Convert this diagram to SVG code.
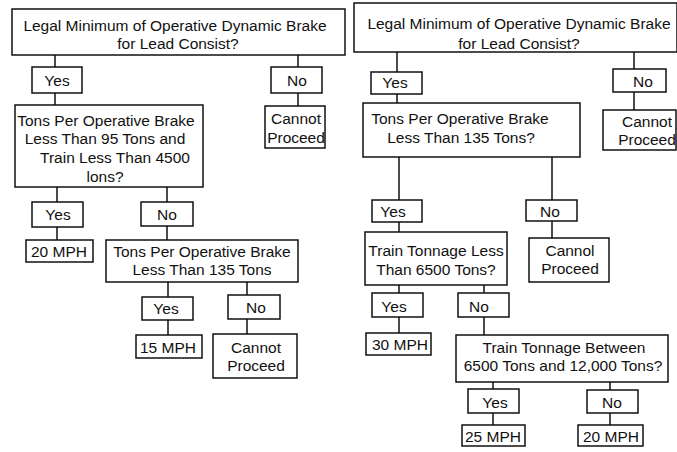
<svg xmlns="http://www.w3.org/2000/svg" width="677" height="452" viewBox="0 0 677 452">
  <style>
    .box { fill: #fff; stroke: #111; stroke-width: 1.5; }
    .wire { stroke: #111; stroke-width: 1.5; fill: none; }
    text { font-family: "Liberation Sans", Arial, Helvetica, sans-serif; font-size: 15.5px; fill: #111; text-anchor: middle; }
  </style>
  <rect width="677" height="452" fill="#fff"/>

  <!-- connectors -->
  <g id="connectors" class="wire">
    <!-- left chart -->
    <path d="M55 55V67M55 93V105"/>
    <path d="M298 55V67M298 93V106"/>
    <path d="M57 187V202M57 227V240"/>
    <path d="M167 187V202M167 226V240"/>
    <path d="M168 282V297M168 320V335"/>
    <path d="M247 282V295M247 319V334"/>
    <!-- right chart -->
    <path d="M397 52V72M397 94V103"/>
    <path d="M634 52V69M634 92V110"/>
    <path d="M399 157V200M399 222V232"/>
    <path d="M552 157V200M552 221V238"/>
    <path d="M399 285V293M399 317V333"/>
    <path d="M484 285V293M484 317V335"/>
    <path d="M493 382V389M493 413V425"/>
    <path d="M610 382V390M610 413V425"/>
  </g>

  <!-- left chart -->
  <g id="l-lead">
    <rect class="box" x="12" y="9" width="333" height="46"/>
    <text x="175" y="30.5">Legal Minimum of Operative Dynamic Brake</text>
    <text x="178" y="48.5">for Lead Consist?</text>
  </g>
  <g id="l-yes1">
    <rect class="box" x="32" y="67" width="50" height="26"/>
    <text x="57" y="85.5">Yes</text>
  </g>
  <g id="l-no1">
    <rect class="box" x="271" y="67" width="51" height="26"/>
    <text x="297" y="85.5">No</text>
  </g>
  <g id="l-stop1">
    <rect class="box" x="265" y="106" width="60" height="42"/>
    <text x="296" y="123.5">Cannot</text>
    <text x="296" y="142.5">Proceed</text>
  </g>
  <g id="l-q95">
    <rect class="box" x="15" y="105" width="188" height="82"/>
    <text x="106" y="125.5">Tons Per Operative Brake</text>
    <text x="105" y="143.5">Less Than 95 Tons and</text>
    <text x="115" y="162.5">Train Less Than 4500</text>
    <text x="105" y="181.5">lons?</text>
  </g>
  <g id="l-yes2">
    <rect class="box" x="32" y="202" width="51" height="25"/>
    <text x="58" y="219.5">Yes</text>
  </g>
  <g id="l-20mph">
    <rect class="box" x="26" y="240" width="67" height="22"/>
    <text x="59" y="257">20 MPH</text>
  </g>
  <g id="l-no2">
    <rect class="box" x="141" y="202" width="52" height="24"/>
    <text x="167" y="219.5">No</text>
  </g>
  <g id="l-q135">
    <rect class="box" x="106" y="240" width="192" height="42"/>
    <text x="202" y="256.5">Tons Per Operative Brake</text>
    <text x="202" y="274.5">Less Than 135 Tons</text>
  </g>
  <g id="l-yes3">
    <rect class="box" x="142" y="297" width="51" height="23"/>
    <text x="166" y="313.5">Yes</text>
  </g>
  <g id="l-15mph">
    <rect class="box" x="136" y="335" width="66" height="23"/>
    <text x="168" y="352.5">15 MPH</text>
  </g>
  <g id="l-no3">
    <rect class="box" x="228" y="295" width="52" height="24"/>
    <text x="256" y="313">No</text>
  </g>
  <g id="l-stop2">
    <rect class="box" x="213" y="334" width="84" height="44"/>
    <text x="256" y="352.5">Cannot</text>
    <text x="256" y="370.5">Proceed</text>
  </g>

  <!-- right chart -->
  <g id="r-lead">
    <rect class="box" x="354" y="3" width="323" height="49"/>
    <text x="519" y="28.5">Legal Minimum of Operative Dynamic Brake</text>
    <text x="519" y="48.5">for Lead Consist?</text>
  </g>
  <g id="r-yes1">
    <rect class="box" x="371" y="72" width="51" height="22"/>
    <text x="395" y="87.5">Yes</text>
  </g>
  <g id="r-no1">
    <rect class="box" x="613" y="69" width="53" height="23"/>
    <text x="643" y="86.5">No</text>
  </g>
  <g id="r-stop1">
    <rect class="box" x="603" y="110" width="73" height="40"/>
    <text x="647" y="126.5">Cannot</text>
    <text x="647" y="144.5">Proceed</text>
  </g>
  <g id="r-q135">
    <rect class="box" x="363" y="103" width="217" height="54"/>
    <text x="460" y="123.5">Tons Per Operative Brake</text>
    <text x="461" y="142.5">Less Than 135 Tons?</text>
  </g>
  <g id="r-yes2">
    <rect class="box" x="372" y="200" width="50" height="22"/>
    <text x="393" y="216.5">Yes</text>
  </g>
  <g id="r-no2">
    <rect class="box" x="526" y="200" width="51" height="21"/>
    <text x="550" y="216.5">No</text>
  </g>
  <g id="r-stop2">
    <rect class="box" x="529" y="238" width="80" height="44"/>
    <text x="570" y="255.5">Cannol</text>
    <text x="570" y="273.5">Proceed</text>
  </g>
  <g id="r-q6500">
    <rect class="box" x="365" y="232" width="142" height="53"/>
    <text x="436" y="255.5">Train Tonnage Less</text>
    <text x="436" y="274.5">Than 6500 Tons?</text>
  </g>
  <g id="r-yes3">
    <rect class="box" x="372" y="293" width="51" height="24"/>
    <text x="394" y="311.5">Yes</text>
  </g>
  <g id="r-30mph">
    <rect class="box" x="366" y="333" width="65" height="22"/>
    <text x="400" y="349.5">30 MPH</text>
  </g>
  <g id="r-no3">
    <rect class="box" x="458" y="293" width="51" height="24"/>
    <text x="479" y="311.5">No</text>
  </g>
  <g id="r-between">
    <rect class="box" x="456" y="335" width="212" height="47"/>
    <text x="564" y="352.5">Train Tonnage Between</text>
    <text x="563" y="370.5">6500 Tons and 12,000 Tons?</text>
  </g>
  <g id="r-yes4">
    <rect class="box" x="468" y="389" width="51" height="24"/>
    <text x="495" y="407.5">Yes</text>
  </g>
  <g id="r-25mph">
    <rect class="box" x="462" y="425" width="63" height="21"/>
    <text x="493" y="441.5">25 MPH</text>
  </g>
  <g id="r-no4">
    <rect class="box" x="587" y="390" width="51" height="23"/>
    <text x="612" y="407.5">No</text>
  </g>
  <g id="r-20mph">
    <rect class="box" x="578" y="425" width="65" height="21"/>
    <text x="611" y="441.5">20 MPH</text>
  </g>
</svg>
